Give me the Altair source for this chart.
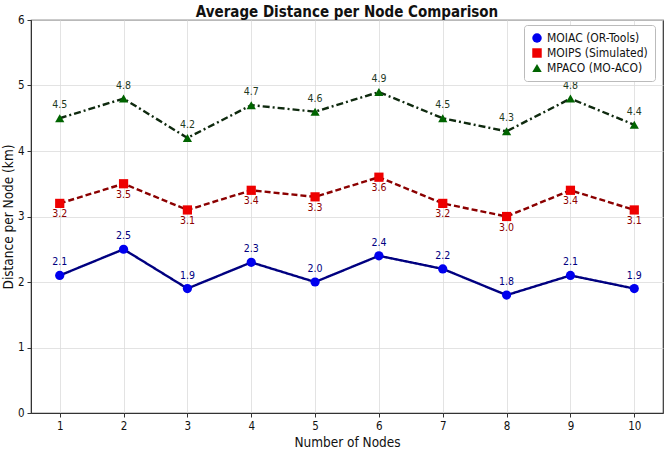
import altair as alt
import pandas as pd

nodes = [1, 2, 3, 4, 5, 6, 7, 8, 9, 10]
moiac = [2.1, 2.5, 1.9, 2.3, 2.0, 2.4, 2.2, 1.8, 2.1, 1.9]
moips = [3.2, 3.5, 3.1, 3.4, 3.3, 3.6, 3.2, 3.0, 3.4, 3.1]
mpaco = [4.5, 4.8, 4.2, 4.7, 4.6, 4.9, 4.5, 4.3, 4.8, 4.4]

series = ["MOIAC (OR-Tools)", "MOIPS (Simulated)", "MPACO (MO-ACO)"]
line_colors = ["#000080", "#8b0000", "#0f2a0f"]
marker_colors = ["#0000ee", "#ee0000", "#006400"]
label_colors = ["#000080", "#8b0000", "#1f3a1f"]
shapes = ["circle", "square", "triangle-up"]
dashes = [[1, 0], [6, 3], [7, 3, 2, 3]]
label_dy = [-13, 11, -13]

FONT = "DejaVu Sans Condensed"

rows = []
for name, vals in zip(series, [moiac, moips, mpaco]):
    for n, v in zip(nodes, vals):
        rows.append({"Nodes": n, "Value": v, "Series": name, "Label": f"{v:.1f}"})
df = pd.DataFrame(rows)

x = alt.X("Nodes:Q", title="Number of Nodes",
          scale=alt.Scale(domain=[0.55, 10.45], nice=False, zero=False),
          axis=alt.Axis(values=nodes, format="d", grid=True))
y = alt.Y("Value:Q", title="Distance per Node (km)",
          scale=alt.Scale(domain=[0, 6], nice=False),
          axis=alt.Axis(values=[0, 1, 2, 3, 4, 5, 6], grid=True))

base = alt.Chart(df)

layers = []
# one connecting line per series, each with its own colour and dash style
for name, col, dash in zip(series, line_colors, dashes):
    layers.append(
        base.transform_filter(alt.datum.Series == name)
        .mark_line(strokeWidth=2.4, color=col, strokeDash=dash)
        .encode(x=x, y=y)
    )

legend = alt.Legend(title=None, orient="none", legendX=493, legendY=5,
                    labelFont=FONT, labelFontSize=12, labelColor="#111",
                    symbolSize=90, strokeColor="#bbb", padding=7,
                    cornerRadius=3, fillColor="white", rowPadding=3)

layers.append(
    base.mark_point(filled=True, size=85, opacity=1).encode(
        x=x, y=y,
        color=alt.Color("Series:N", scale=alt.Scale(domain=series, range=marker_colors), legend=legend),
        shape=alt.Shape("Series:N", scale=alt.Scale(domain=series, range=shapes), legend=legend),
    )
)

# value labels: above for MOIAC and MPACO, below for MOIPS
for name, col, dy in zip(series, label_colors, label_dy):
    layers.append(
        base.transform_filter(alt.datum.Series == name)
        .mark_text(dy=dy, font=FONT, fontSize=10.5, color=col)
        .encode(x=x, y=y, text="Label:N")
    )

chart = alt.layer(*layers).properties(
    width=632, height=393,
    title=alt.Title("Average Distance per Node Comparison", font=FONT, fontSize=15,
                    fontWeight="bold", color="#111", offset=4, dy=10),
    padding={"left": 31, "top": 20, "right": 3, "bottom": 37},
    autosize=alt.AutoSizeParams(type="none"),
).configure_view(
    stroke="#333", strokeWidth=1.2
).configure_axis(
    labelFont=FONT, titleFont=FONT, labelFontSize=11.5, titleFontSize=13.5,
    titleFontWeight="normal", labelColor="#111", titleColor="#111",
    gridColor="#dcdcdc", gridWidth=0.8, domainColor="#333", tickColor="#333",
    tickSize=4, labelPadding=3,
).configure_axisX(titlePadding=4).configure_axisY(titlePadding=2)

chart.save("out.html", embed_options={"renderer": "svg", "actions": False})
